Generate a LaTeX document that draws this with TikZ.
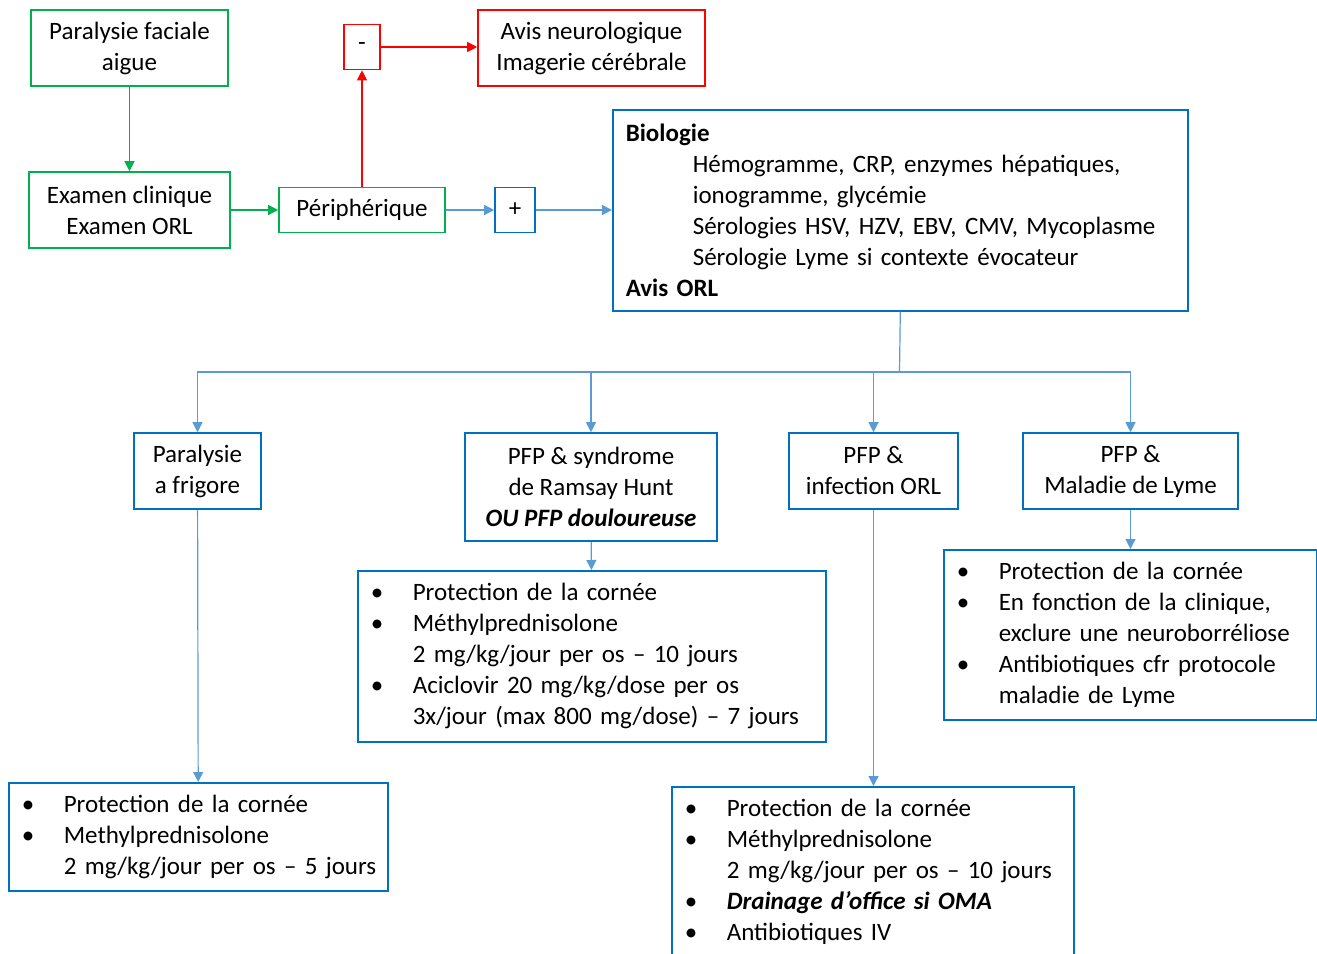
\documentclass[tikz,border=0pt]{standalone}
\usepackage{fontspec}
\setmainfont{Carlito}
\usetikzlibrary{arrows.meta}
\definecolor{pgreen}{HTML}{00B050}
\definecolor{pred}{HTML}{FF0000}
\definecolor{pblue}{HTML}{0070C0}
\definecolor{plink}{HTML}{5B9BD5}
\newcommand{\bul}{\hspace*{3pt}\makebox[42pt][l]{\textbullet}}
\newcommand{\ind}{\hspace*{45pt}}
\begin{document}
\begin{tikzpicture}[x=1pt,y=-1pt,
    every node/.style={font=\fontsize{25}{31}\selectfont, inner sep=0pt},
    gbox/.style={draw=pgreen, line width=1.6pt, align=center},
    rbox/.style={draw=pred, line width=1.6pt, align=center},
    bbox/.style={draw=pblue, line width=1.6pt, align=center},
    lbox/.style={draw=pblue, line width=1.6pt, anchor=north west, align=left, inner xsep=10pt},
    garrow/.style={draw=pgreen, line width=1.2pt, -{Triangle[length=10pt,width=10pt]}},
    rarrow/.style={draw=pred, line width=1.2pt, -{Triangle[length=10pt,width=10pt]}},
    barrow/.style={draw=plink, line width=1.2pt, -{Triangle[length=10pt,width=10pt]}}]
    \useasboundingbox (0,0) rectangle (1317,953);
    \clip (0,0) rectangle (1317,953);
    % top row
    \node [gbox, minimum width=197pt, minimum height=76pt] (pfa) at (129.5,48) {Paralysie faciale\\aigue};
    \node [gbox, minimum width=201pt, minimum height=76pt] (exam) at (129.5,210) {Examen clinique\\Examen ORL};
    \node [gbox, minimum width=166pt, minimum height=45pt] (periph) at (362,210) {Périphérique};
    \node [rbox, minimum width=36pt, minimum height=45pt] (minus) at (362,47) {-};
    \node [rbox, minimum width=227pt, minimum height=76pt] (avis) at (591.5,48) {Avis neurologique\\Imagerie cérébrale};
    \node [bbox, minimum width=40pt, minimum height=45pt] (plus) at (515,210) {+};
    \node [lbox, inner xsep=13pt, minimum width=575pt, minimum height=201pt, text width=549pt] (bio) at (612,109) {%
        \textbf{Biologie}\\
        \hspace*{67pt}Hémogramme, CRP, enzymes hépatiques,\\
        \hspace*{67pt}ionogramme, glycémie\\
        \hspace*{67pt}Sérologies HSV, HZV, EBV, CMV, Mycoplasme\\
        \hspace*{67pt}Sérologie Lyme si contexte évocateur\\
        \textbf{Avis ORL}};
    % four cases
    \node [bbox, minimum width=127pt, minimum height=76pt] (frigore) at (197.5,471) {Paralysie\\a frigore};
    \node [bbox, minimum width=252pt, minimum height=108pt] (ramsay) at (591,487) {PFP \& syndrome\\de Ramsay Hunt\\\textbf{\textit{OU PFP douloureuse}}};
    \node [bbox, minimum width=169pt, minimum height=76pt] (infection) at (873.5,471) {PFP \&\\infection ORL};
    \node [bbox, minimum width=215pt, minimum height=76pt] (lyme) at (1130.5,471) {PFP \&\\Maladie de Lyme};
    % treatments
    \node [lbox, minimum width=379pt, minimum height=108pt, text width=359pt] (frigoretx) at (8,782) {%
        \bul Protection de la cornée\\
        \bul Methylprednisolone\\
        \ind 2 mg/kg/jour per os – 5 jours};
    \node [lbox, minimum width=468pt, minimum height=171pt, text width=448pt] (ramsaytx) at (357,570) {%
        \bul Protection de la cornée\\
        \bul Méthylprednisolone\\
        \ind 2 mg/kg/jour per os – 10 jours\\
        \bul Aciclovir 20 mg/kg/dose per os\\
        \ind 3x/jour (max 800 mg/dose) – 7 jours};
    \node [lbox, minimum width=402pt, minimum height=171pt, text width=382pt] (infectiontx) at (671,786) {%
        \bul Protection de la cornée\\
        \bul Méthylprednisolone\\
        \ind 2 mg/kg/jour per os – 10 jours\\
        \bul \textbf{\textit{Drainage d’office si OMA}}\\
        \bul Antibiotiques IV};
    \node [lbox, minimum width=373pt, minimum height=170pt, text width=353pt] (lymetx) at (943,549) {%
        \bul Protection de la cornée\\
        \bul En fonction de la clinique,\\
        \ind exclure une neuroborréliose\\
        \bul Antibiotiques cfr protocole\\
        \ind maladie de Lyme};
    % connectors
    \draw [garrow] (pfa) -- (exam);
    \draw [garrow] (exam) -- (periph);
    \draw [rarrow] (periph) -- (minus);
    \draw [rarrow] (minus) -- (minus -| avis.west);
    \draw [barrow] (periph) -- (plus);
    \draw [barrow] (plus) -- (plus -| bio.west);
    \coordinate (split) at (899.5,372);
    \draw [plink, line width=1.2pt] (bio.south) -- (split);
    \draw [barrow] (split) -| (frigore.north);
    \draw [barrow] (split) -| (ramsay.north);
    \draw [barrow] (split) -| (infection.north);
    \draw [barrow] (split) -| (lyme.north);
    \draw [barrow] (frigore) -- (frigoretx);
    \draw [barrow] (ramsay) -- (ramsaytx);
    \draw [barrow] (infection.south) -- (infection.south |- infectiontx.north);
    \draw [barrow] (lyme.south) -- (lyme.south |- lymetx.north);
\end{tikzpicture}
\end{document}
